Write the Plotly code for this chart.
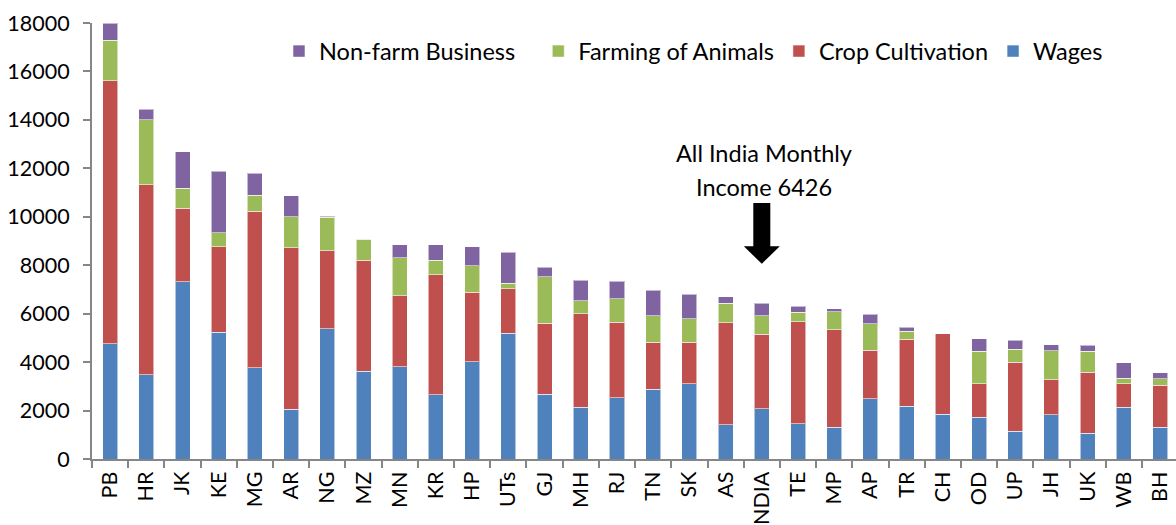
import plotly.graph_objects as go

# State-wise average monthly income of agricultural households, by source (Rs.)
states = ["PB", "HR", "JK", "KE", "MG", "AR", "NG", "MZ", "MN", "KR", "HP", "UTs",
          "GJ", "MH", "RJ", "TN", "SK", "AS", "INDIA", "TE", "MP", "AP", "TR", "CH",
          "OD", "UP", "JH", "UK", "WB", "BH"]

wages = [4760, 3480, 7320, 5230, 3770, 2050, 5380, 3630, 3810, 2660, 4020, 5190,
         2670, 2130, 2530, 2880, 3100, 1420, 2071, 1450, 1320, 2480, 2180, 1840,
         1720, 1140, 1830, 1060, 2130, 1320]
crop = [10860, 7850, 3040, 3540, 6460, 6670, 3210, 4580, 2920, 4940, 2860, 1840,
        2930, 3870, 3120, 1930, 1710, 4210, 3078, 4210, 4020, 2020, 2760, 3340,
        1390, 2850, 1440, 2520, 980, 1720]
animals = [1670, 2670, 810, 580, 660, 1280, 1390, 870, 1570, 610, 1090, 220,
           1920, 540, 960, 1110, 980, 800, 765, 390, 730, 1080, 330, 0,
           1340, 550, 1200, 870, 220, 280]
nonfarm = [710, 430, 1510, 2540, 900, 860, 50, 0, 540, 630, 800, 1290,
           400, 840, 720, 1050, 1010, 260, 512, 260, 130, 400, 170, 0,
           520, 370, 250, 250, 650, 240]

SP = "\u00a0"  # extra spacing after a legend entry
series = [
    ("Wages", wages, "#4F81BD"),
    ("Crop Cultivation", crop, "#C0504D"),
    ("Farming of Animals", animals, "#9BBB59"),
    ("Non-farm Business" + SP * 3, nonfarm, "#8064A2"),
]

FONT = "Lato"
FS = 23.5
TICK_FS = 21.5
W, H = 1176, 525
M_L, M_R, M_T, M_B = 92, 0, 23, 66
X_RANGE = [-0.5, 29.44]

fig = go.Figure()
for name, vals, color in series:
    fig.add_trace(go.Bar(
        x=states, y=vals, name=name,
        marker=dict(color=color, line=dict(color="rgba(255,255,255,0.55)", width=1)),
    ))


def xpaper(idx, dx_px=0.0):
    """Category index (plus a pixel offset) -> paper x fraction."""
    plot_w = W - M_L - M_R
    frac = (idx - X_RANGE[0]) / (X_RANGE[1] - X_RANGE[0])
    return frac + dx_px / plot_w


# Down arrow pointing at the all-India bar
ci = states.index("INDIA")
shaft_top, head_base, tip = 10570, 8780, 8060
sw, hw = 8.5, 18.0
pts = [
    (xpaper(ci, -sw), shaft_top), (xpaper(ci, sw), shaft_top),
    (xpaper(ci, sw), head_base), (xpaper(ci, hw), head_base),
    (xpaper(ci, 0), tip), (xpaper(ci, -hw), head_base),
    (xpaper(ci, -sw), head_base),
]
path = "M " + " L ".join(f"{x},{y}" for x, y in pts) + " Z"
fig.add_shape(type="path", path=path, xref="paper", yref="y",
              fillcolor="black", line=dict(color="black", width=0))

for txt, yv in [("All India Monthly", 12650), ("Income 6426", 11240)]:
    fig.add_annotation(x=xpaper(ci, 2), xref="paper", y=yv, yref="y",
                       text=txt, showarrow=False, xanchor="center", yanchor="middle",
                       font=dict(family=FONT, size=FS, color="black"))

fig.update_layout(
    barmode="stack",
    bargap=0.585,
    width=W, height=H,
    margin=dict(l=M_L, r=M_R, t=M_T, b=M_B, autoexpand=False),
    paper_bgcolor="white", plot_bgcolor="white",
    font=dict(family=FONT, size=FS, color="black"),
    showlegend=True,
    legend=dict(orientation="h", traceorder="reversed",
                x=0.1725, xanchor="left", y=0.935, yanchor="middle",
                font=dict(family=FONT, size=FS, color="black"),
                bgcolor="rgba(0,0,0,0)", itemclick=False, itemdoubleclick=False),
)

fig.update_xaxes(
    type="category", range=X_RANGE, automargin=False,
    showline=True, linecolor="#868686", linewidth=2,
    ticks="outside", tickson="boundaries", ticklen=7, tickwidth=2, tickcolor="#868686",
    tickangle=-90, tickfont=dict(family=FONT, size=TICK_FS, color="black"),
    ticklabelstandoff=2,
    showgrid=False, zeroline=False,
)
fig.update_yaxes(
    range=[0, 18000], dtick=2000, tickformat="d", automargin=False,
    showline=True, linecolor="#868686", linewidth=2,
    ticks="outside", ticklen=7, tickwidth=2, tickcolor="#868686",
    tickfont=dict(family=FONT, size=TICK_FS, color="black"),
    ticklabelstandoff=9,
    showgrid=False, zeroline=False,
)

fig.write_html("out.html")
